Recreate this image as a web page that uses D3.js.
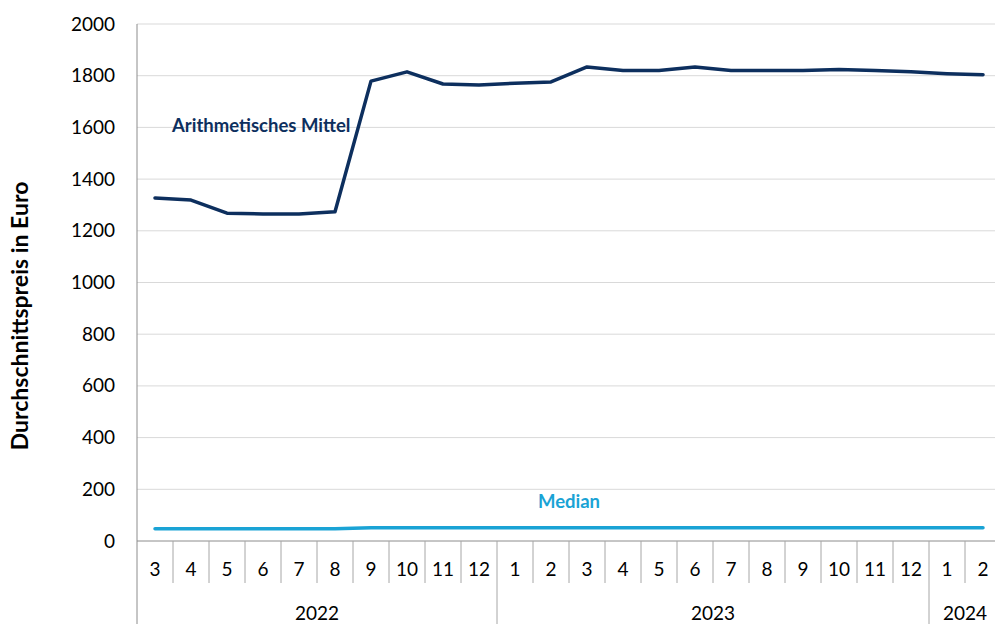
<!DOCTYPE html>
<html>
<head>
<meta charset="utf-8">
<script src="https://cdn.jsdelivr.net/npm/d3@7"></script>
<style>
  body { margin: 0; background: #fff; }
  text { font-family: Lato, "Open Sans", sans-serif; }
</style>
</head>
<body>
<div id="chart"></div>
<script>
var svgWidth = 995;
var svgHeight = 624;

// months (category labels) and their years
var months = [3, 4, 5, 6, 7, 8, 9, 10, 11, 12, 1, 2, 3, 4, 5, 6, 7, 8, 9, 10, 11, 12, 1, 2];
var years  = [2022, 2022, 2022, 2022, 2022, 2022, 2022, 2022, 2022, 2022,
              2023, 2023, 2023, 2023, 2023, 2023, 2023, 2023, 2023, 2023, 2023, 2023,
              2024, 2024];

// series values (euro)
var meanValues = [1327, 1319, 1268, 1265, 1265, 1274, 1779, 1815, 1768, 1764, 1771, 1776,
                  1834, 1820, 1820, 1834, 1820, 1820, 1820, 1824, 1820, 1815, 1808, 1804];
var medianValues = [47, 47, 47, 47, 47, 47, 51, 51, 51, 51, 51, 51,
                    51, 51, 51, 51, 51, 51, 51, 51, 51, 51, 51, 51];

var yTicks = [0, 200, 400, 600, 800, 1000, 1200, 1400, 1600, 1800, 2000];

var plotLeft = 137, plotRight = 1001, plotTop = 24, plotBottom = 541;

var svg = d3.select("#chart")
  .append("svg")
  .attr("width", svgWidth)
  .attr("height", svgHeight);

var keys = months.map((m, i) => i);

var x = d3.scaleBand()
  .domain(keys)
  .range([plotLeft, plotRight]);

var y = d3.scaleLinear()
  .domain([0, 2000])
  .range([plotBottom, plotTop]);

// gridlines
svg.append("g")
  .selectAll("line")
  .data(yTicks.filter(d => d > 0))
  .enter()
  .append("line")
  .attr("x1", plotLeft)
  .attr("x2", plotRight)
  .attr("y1", d => y(d))
  .attr("y2", d => y(d))
  .attr("stroke", "#d9d9d9")
  .attr("stroke-width", 1);

// y axis labels
var yAxis = d3.axisLeft(y)
  .tickValues(yTicks)
  .tickFormat(d3.format("d"))
  .tickSize(0)
  .tickPadding(22);
var yAxisG = svg.append("g")
  .attr("transform", `translate(${plotLeft},0)`)
  .call(yAxis);
yAxisG.select(".domain").remove();
yAxisG.selectAll("text")
  .attr("font-size", "19px")
  .attr("fill", "#000")
  .attr("font-family", "Lato, sans-serif");

// y axis line (runs down through the category area)
svg.append("line")
  .attr("x1", plotLeft).attr("x2", plotLeft)
  .attr("y1", plotTop).attr("y2", svgHeight)
  .attr("stroke", "#8c8c8c")
  .attr("stroke-width", 1);

// x axis baseline
svg.append("line")
  .attr("x1", plotLeft).attr("x2", plotRight)
  .attr("y1", plotBottom).attr("y2", plotBottom)
  .attr("stroke", "#8c8c8c")
  .attr("stroke-width", 1);

// category separators
var seps = keys.slice(1);
svg.append("g")
  .selectAll("line")
  .data(seps)
  .enter()
  .append("line")
  .attr("x1", d => x(d))
  .attr("x2", d => x(d))
  .attr("y1", plotBottom)
  .attr("y2", d => years[d] !== years[d - 1] ? svgHeight : 583)
  .attr("stroke", "#a6a6a6")
  .attr("stroke-width", 1);

// month labels
svg.append("g")
  .selectAll("text")
  .data(keys)
  .enter()
  .append("text")
  .attr("x", d => x(d) + x.bandwidth() / 2)
  .attr("y", 576)
  .attr("text-anchor", "middle")
  .attr("font-size", "19px")
  .attr("fill", "#000")
  .text(d => months[d]);

// year labels
var yearList = Array.from(new Set(years));
svg.append("g")
  .selectAll("text")
  .data(yearList)
  .enter()
  .append("text")
  .attr("x", yr => {
    var idx = keys.filter(i => years[i] === yr);
    var x0 = x(idx[0]);
    var x1 = x(idx[idx.length - 1]) + x.bandwidth();
    return (x0 + x1) / 2;
  })
  .attr("y", 620)
  .attr("text-anchor", "middle")
  .attr("font-size", "19px")
  .attr("fill", "#000")
  .text(yr => yr);

// lines
var line = d3.line()
  .x((d, i) => x(i) + x.bandwidth() / 2)
  .y(d => y(d));

svg.append("path")
  .datum(medianValues)
  .attr("d", line)
  .attr("fill", "none")
  .attr("stroke", "#1aa3d5")
  .attr("stroke-width", 3.5)
  .attr("stroke-linecap", "round");

svg.append("path")
  .datum(meanValues)
  .attr("d", line)
  .attr("fill", "none")
  .attr("stroke", "#0d2f5e")
  .attr("stroke-width", 3.5)
  .attr("stroke-linecap", "round")
  .attr("stroke-linejoin", "round");

// series labels
svg.append("text")
  .attr("x", 172)
  .attr("y", 132)
  .attr("font-size", "18.5px")
  .attr("font-weight", "bold")
  .attr("fill", "#0d2f5e")
  .text("Arithmetisches Mittel");

svg.append("text")
  .attr("x", 569)
  .attr("y", 508)
  .attr("text-anchor", "middle")
  .attr("font-size", "18.5px")
  .attr("font-weight", "bold")
  .attr("fill", "#1aa3d5")
  .text("Median");

// y title
svg.append("text")
  .attr("transform", "translate(28,316) rotate(-90)")
  .attr("text-anchor", "middle")
  .attr("font-size", "23px")
  .attr("font-weight", "bold")
  .attr("fill", "#000")
  .text("Durchschnittspreis in Euro");
</script>
</body>
</html>
